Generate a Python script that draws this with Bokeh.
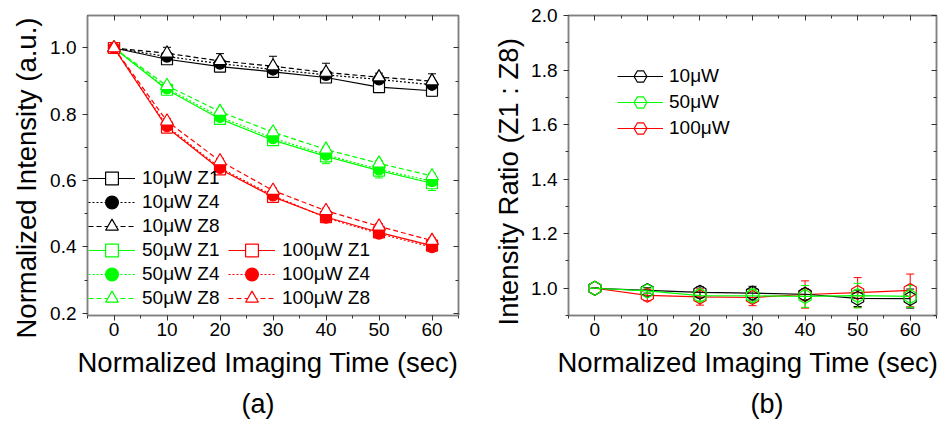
from bokeh.plotting import figure
from bokeh.layouts import row
from bokeh.models import (Range1d, LinearAxis, SingleIntervalTicker, PrintfTickFormatter,
                          CustomJSTickFormatter, Legend, LegendItem, Whisker, TeeHead,
                          ColumnDataSource, Title)
from bokeh.embed import file_html
from bokeh.resources import INLINE
import math

# ---------------- data ----------------
time_s = [0, 10, 20, 30, 40, 50, 60]

# panel (a): normalized intensity
a_10_z1 = [1.0, 0.966, 0.944, 0.928, 0.911, 0.882, 0.871]
a_10_z4 = [1.0, 0.974, 0.953, 0.935, 0.919, 0.905, 0.889]
a_10_z8 = [1.0, 0.984, 0.961, 0.945, 0.926, 0.912, 0.900]
a_50_z1 = [1.0, 0.874, 0.786, 0.722, 0.673, 0.630, 0.592]
a_50_z4 = [1.0, 0.878, 0.792, 0.728, 0.678, 0.634, 0.598]
a_50_z8 = [1.0, 0.886, 0.808, 0.746, 0.694, 0.652, 0.614]
a_100_z1 = [1.0, 0.760, 0.634, 0.551, 0.490, 0.444, 0.404]
a_100_z4 = [1.0, 0.764, 0.638, 0.555, 0.488, 0.440, 0.399]
a_100_z8 = [1.0, 0.779, 0.659, 0.570, 0.509, 0.462, 0.419]

e_10_z1 = [0.0, 0.008, 0.010, 0.010, 0.010, 0.012, 0.016]
e_10_z4 = [0.0, 0.008, 0.010, 0.012, 0.012, 0.010, 0.010]
e_10_z8 = [0.0, 0.018, 0.022, 0.030, 0.028, 0.012, 0.022]
e_50_z1 = [0.0, 0.010, 0.012, 0.015, 0.022, 0.022, 0.022]
e_50_z4 = [0.0, 0.008, 0.010, 0.012, 0.015, 0.015, 0.015]
e_50_z8 = [0.0, 0.006, 0.008, 0.008, 0.008, 0.008, 0.008]
e_100_z1 = [0.0, 0.010, 0.010, 0.010, 0.010, 0.010, 0.010]
e_100_z4 = [0.0, 0.008, 0.008, 0.008, 0.008, 0.008, 0.008]
e_100_z8 = [0.0, 0.008, 0.008, 0.008, 0.008, 0.008, 0.008]

a_labels = ["10\u03bcW Z1", "10\u03bcW Z4", "10\u03bcW Z8",
            "50\u03bcW Z1", "50\u03bcW Z4", "50\u03bcW Z8",
            "100\u03bcW Z1", "100\u03bcW Z4", "100\u03bcW Z8"]

# panel (b): intensity ratio Z1 : Z8
r_10 = [1.0, 0.992, 0.985, 0.982, 0.978, 0.963, 0.962]
r_50 = [1.0, 0.990, 0.973, 0.972, 0.970, 0.973, 0.970]
r_100 = [1.0, 0.974, 0.968, 0.966, 0.977, 0.984, 0.992]
re_10 = [0.0, 0.010, 0.020, 0.025, 0.020, 0.030, 0.035]
re_50 = [0.0, 0.010, 0.020, 0.025, 0.040, 0.045, 0.040]
re_100 = [0.0, 0.020, 0.030, 0.030, 0.050, 0.055, 0.060]
b_labels = ["10\u03bcW", "50\u03bcW", "100\u03bcW"]

x_title = "Normalized Imaging Time (sec)"
ya_title = "Normalized Intensity (a.u.)"
yb_title = "Intensity Ratio (Z1 : Z8)"

# ---------------- style ----------------
FONT = "Liberation Sans"
BLACK, GREEN, RED = "#000000", "#00ff00", "#ff0000"
FRAME = "#808080"
TICK = "#333333"


def style_axes(p, yfmt):
    p.xgrid.visible = False
    p.ygrid.visible = False
    p.outline_line_color = FRAME
    p.outline_line_width = 1.5
    p.background_fill_color = "white"
    for ax in (p.xaxis[0], p.yaxis[0]):
        ax.axis_line_color = FRAME
        ax.axis_line_width = 1.5
        ax.major_tick_line_color = TICK
        ax.minor_tick_line_color = TICK
        ax.major_tick_out = 5
        ax.major_tick_in = 0
        ax.minor_tick_out = 3
        ax.minor_tick_in = 0
        ax.major_label_text_font = FONT
        ax.major_label_text_font_size = "19px"
        ax.major_label_text_color = "black"
    p.xaxis[0].major_label_standoff = 2
    p.yaxis[0].major_label_standoff = 6
    p.yaxis[0].formatter = PrintfTickFormatter(format=yfmt)


def mirror_axes(p, xticker, yticker):
    top = LinearAxis(ticker=xticker, formatter=CustomJSTickFormatter(code="return ''"))
    right = LinearAxis(ticker=yticker, formatter=CustomJSTickFormatter(code="return ''"))
    for ax in (top, right):
        ax.axis_line_color = FRAME
        ax.axis_line_width = 1.5
        ax.major_tick_line_color = TICK
        ax.minor_tick_line_color = TICK
        ax.major_tick_in = 5
        ax.major_tick_out = 0
        ax.minor_tick_in = 3
        ax.minor_tick_out = 0
        ax.major_label_text_font_size = "0px"
        ax.major_label_standoff = 0
    p.add_layout(top, "above")
    p.add_layout(right, "right")


def side_title(text, offset, standoff, size="27.5px"):
    return Title(text=text, align="left", offset=offset, standoff=standoff,
                 text_font=FONT, text_font_size=size, text_font_style="normal",
                 text_color="black")


def one_row_legend(item, x, y, glyph_w, standoff):
    # one legend per row, so rows can be packed tighter than the glyph box
    return Legend(items=[item], location=(x, y), orientation="vertical",
                  glyph_width=glyph_w, glyph_height=32, label_height=32,
                  spacing=0, padding=0, margin=0, label_standoff=standoff,
                  border_line_alpha=0, background_fill_alpha=0,
                  label_text_font=FONT, label_text_font_size="19px",
                  label_text_color="black")


# ---------------- panel (a) ----------------
xt_a = SingleIntervalTicker(interval=10, num_minor_ticks=2)
yt_a = SingleIntervalTicker(interval=0.2, num_minor_ticks=2)

pa = figure(width=470, height=424, output_backend="svg", toolbar_location=None,
            x_range=Range1d(-5, 65), y_range=Range1d(0.193, 1.098),
            min_border_left=87, min_border_right=12, min_border_top=11, min_border_bottom=109)
pa.xaxis[0].ticker = xt_a
pa.yaxis[0].ticker = yt_a
style_axes(pa, "%.1f")
mirror_axes(pa, xt_a, yt_a)

series_a = [
    (a_10_z1, e_10_z1, BLACK, "solid", "square", "white"),
    (a_10_z4, e_10_z4, BLACK, "2 2", "circle", BLACK),
    (a_10_z8, e_10_z8, BLACK, "5 3", "triangle", "white"),
    (a_50_z1, e_50_z1, GREEN, "solid", "square", "white"),
    (a_50_z4, e_50_z4, GREEN, "2 2", "circle", GREEN),
    (a_50_z8, e_50_z8, GREEN, "5 3", "triangle", "white"),
    (a_100_z1, e_100_z1, RED, "solid", "square", "white"),
    (a_100_z4, e_100_z4, RED, "2 2", "circle", RED),
    (a_100_z8, e_100_z8, RED, "5 3", "triangle", "white"),
]
msize = {"square": 11, "circle": 11, "triangle": 13}
items_a = []
for (vals, errs, col, dash, mk, fill), lab in zip(series_a, a_labels):
    src = ColumnDataSource(dict(x=time_s, y=vals,
                                lo=[v - e for v, e in zip(vals, errs)],
                                hi=[v + e for v, e in zip(vals, errs)]))
    w = Whisker(source=src, base="x", upper="hi", lower="lo", line_color=col, line_width=1,
                upper_head=TeeHead(size=8, line_color=col, line_width=1),
                lower_head=TeeHead(size=8, line_color=col, line_width=1))
    pa.add_layout(w)
    ln = pa.line("x", "y", source=src, line_color=col, line_width=1.2, line_dash=dash)
    sc = pa.scatter("x", "y", source=src, marker=mk, size=msize[mk], line_color=col,
                    fill_color=fill, line_width=1.2)
    items_a.append(LegendItem(label=lab, renderers=[ln, sc]))

# left column: 6 rows; right column: 3 rows aligned with rows 4-6
for i, it in enumerate(items_a[:6]):
    pa.add_layout(one_row_legend(it, 1, 1 + 24 * (5 - i), 47, 7), "center")
for i, it in enumerate(items_a[6:]):
    pa.add_layout(one_row_legend(it, 141, 1 + 24 * (2 - i), 47, 7), "center")

pa.add_layout(side_title(x_title, -10, 13), "below")
pa.add_layout(side_title("(a)", 154, 4, "27px"), "below")
pa.add_layout(side_title(ya_title, -23, 11), "left")

# ---------------- panel (b) ----------------
xt_b = SingleIntervalTicker(interval=10, num_minor_ticks=2)
yt_b = SingleIntervalTicker(interval=0.2, num_minor_ticks=2)

pb = figure(width=472, height=424, output_backend="svg", toolbar_location=None,
            x_range=Range1d(-5, 65), y_range=Range1d(0.9, 2.0),
            min_border_left=98, min_border_right=6, min_border_top=15, min_border_bottom=107)
pb.xaxis[0].ticker = xt_b
pb.yaxis[0].ticker = yt_b
style_axes(pb, "%.1f")
mirror_axes(pb, xt_b, yt_b)

series_b = {
    "10": (r_10, re_10, BLACK),
    "50": (r_50, re_50, GREEN),
    "100": (r_100, re_100, RED),
}
rend_b = {}
for key in ["100", "10", "50"]:
    vals, errs, col = series_b[key]
    src = ColumnDataSource(dict(x=time_s, y=vals,
                                lo=[v - e for v, e in zip(vals, errs)],
                                hi=[v + e for v, e in zip(vals, errs)]))
    w = Whisker(source=src, base="x", upper="hi", lower="lo", line_color=col, line_width=1,
                upper_head=TeeHead(size=8, line_color=col, line_width=1),
                lower_head=TeeHead(size=8, line_color=col, line_width=1))
    pb.add_layout(w)
    ln = pb.line("x", "y", source=src, line_color=col, line_width=1.2)
    sc = pb.scatter("x", "y", source=src, marker="hex", size=14, angle=math.pi / 2,
                    line_color=col, fill_color="white", fill_alpha=0.0, line_width=1.2)
    rend_b[key] = [ln, sc]

for i, (lab, k) in enumerate(zip(b_labels, ["10", "50", "100"])):
    it = LegendItem(label=lab, renderers=rend_b[k])
    pb.add_layout(one_row_legend(it, 49, 171 + 26 * (2 - i), 46, 6), "center")

pb.add_layout(side_title(x_title, -11, 13), "below")
pb.add_layout(side_title("(b)", 182, 4, "27px"), "below")
pb.add_layout(side_title(yb_title, -10, 10), "left")

layout = row(pa, pb)
open("out.html", "w").write(file_html(layout, INLINE))
